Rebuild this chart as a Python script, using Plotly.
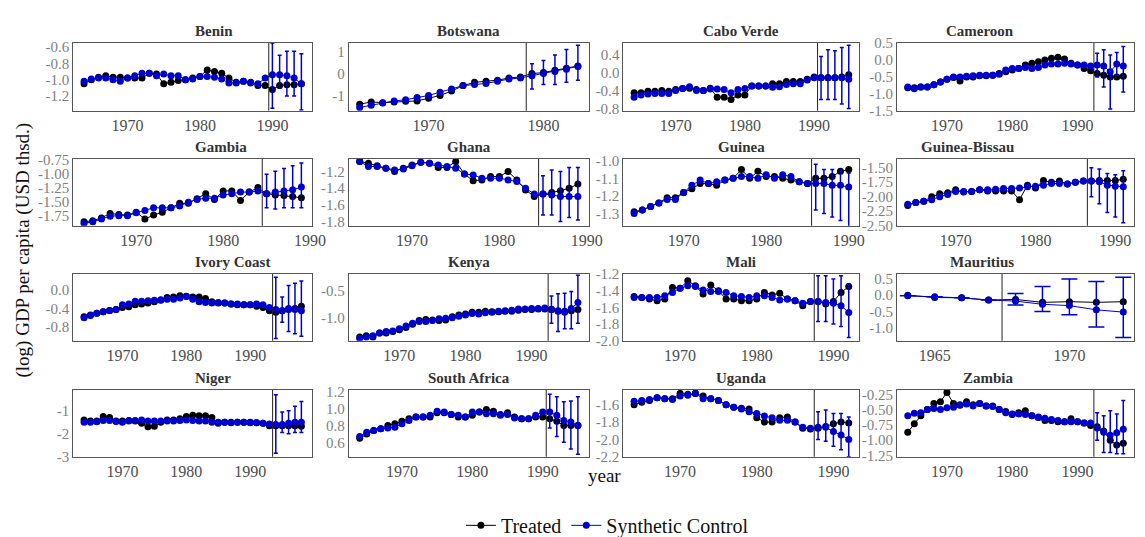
import plotly.graph_objects as go

countries = ["Benin", "Botswana", "Cabo Verde", "Cameroon", "Gambia", "Ghana", "Guinea", "Guinea-Bissau",
             "Ivory Coast", "Kenya", "Mali", "Mauritius", "Niger", "South Africa", "Uganda", "Zambia"]
start_year = [1964] * 16
treat_year = [1989.5, 1978.5, 1990.5, 1992.5, 1984.5, 1984.5, 1985.5, 1986.5,
              1993.5, 1992.5, 1987.5, 1967.5, 1993.5, 1990.5, 1987.5, 1992.5]

benin_treated = [-1.05,-1.0,-0.97,-0.95,-0.97,-0.97,-0.98,-0.98,-0.98,-0.92,-0.93,-1.05,-1.03,-1.01,-1.0,-0.98,-0.96,-0.88,-0.9,-0.92,-0.98,-1.03,-1.02,-1.03,-1.07,-1.07,-1.12,-1.07,-1.06,-1.06,-1.05]
benin_synth = [-1.02,-0.99,-0.98,-0.98,-1.0,-1.02,-0.98,-0.95,-0.92,-0.92,-0.95,-0.93,-0.95,-0.95,-1.0,-0.99,-0.96,-0.96,-0.97,-0.99,-1.04,-1.04,-1.02,-1.04,-1.05,-0.98,-0.94,-0.94,-0.95,-0.98,-1.05]
benin_hi = [-0.55,-0.7,-0.65,-0.65,-0.68]
benin_lo = [-1.35,-1.1,-1.2,-1.2,-1.37]

botswana_treated = [-1.4,-1.3,-1.33,-1.3,-1.27,-1.25,-1.13,-1.0,-0.8,-0.55,-0.4,-0.35,-0.3,-0.2,-0.15,0.0,0.05,0.15,0.25,0.35]
botswana_synth = [-1.55,-1.45,-1.35,-1.25,-1.2,-1.1,-1.0,-0.85,-0.7,-0.55,-0.5,-0.45,-0.35,-0.25,-0.2,-0.1,0.0,0.1,0.2,0.33]
botswana_hi = [0.45,0.6,0.85,1.1,1.3]
botswana_lo = [-0.7,-0.5,-0.5,-0.4,-0.3]

caboverde_treated = [-0.45,-0.45,-0.42,-0.42,-0.4,-0.42,-0.38,-0.36,-0.35,-0.38,-0.4,-0.35,-0.55,-0.55,-0.6,-0.5,-0.5,-0.3,-0.3,-0.3,-0.25,-0.25,-0.2,-0.2,-0.2,-0.15,-0.1,-0.12,-0.12,-0.12,-0.1,-0.05]
caboverde_synth = [-0.55,-0.5,-0.48,-0.47,-0.47,-0.47,-0.4,-0.36,-0.32,-0.4,-0.4,-0.37,-0.37,-0.38,-0.45,-0.38,-0.36,-0.3,-0.3,-0.3,-0.33,-0.32,-0.27,-0.25,-0.25,-0.17,-0.12,-0.12,-0.12,-0.12,-0.12,-0.15]
caboverde_hi = [0.35,0.5,0.48,0.55,0.6]
caboverde_lo = [-0.6,-0.6,-0.6,-0.7,-0.8]

cameroon_treated = [-0.82,-0.82,-0.8,-0.8,-0.73,-0.65,-0.57,-0.52,-0.62,-0.5,-0.5,-0.47,-0.47,-0.45,-0.4,-0.35,-0.3,-0.25,-0.15,-0.1,-0.05,0.0,0.05,0.08,0.03,-0.1,-0.15,-0.25,-0.32,-0.4,-0.45,-0.5,-0.5,-0.48]
cameroon_synth = [-0.8,-0.85,-0.8,-0.8,-0.73,-0.65,-0.57,-0.5,-0.5,-0.48,-0.47,-0.45,-0.45,-0.45,-0.42,-0.3,-0.25,-0.25,-0.22,-0.25,-0.22,-0.15,-0.12,-0.12,-0.1,-0.12,-0.15,-0.15,-0.18,-0.15,-0.18,-0.35,-0.12,-0.18]
cameroon_hi = [0.2,0.3,0.15,0.22,0.4]
cameroon_lo = [-0.5,-0.8,-1.45,-0.45,-0.95]

gambia_treated = [-1.85,-1.83,-1.78,-1.7,-1.72,-1.73,-1.68,-1.8,-1.73,-1.68,-1.6,-1.52,-1.52,-1.44,-1.35,-1.45,-1.3,-1.3,-1.47,-1.32,-1.24,-1.35,-1.37,-1.38,-1.4,-1.42]
gambia_synth = [-1.88,-1.85,-1.8,-1.75,-1.74,-1.74,-1.69,-1.65,-1.6,-1.6,-1.6,-1.57,-1.5,-1.45,-1.43,-1.43,-1.37,-1.35,-1.32,-1.32,-1.3,-1.35,-1.32,-1.3,-1.28,-1.23]
gambia_hi = [-1.0,-0.95,-0.9,-0.85,-0.8]
gambia_lo = [-1.6,-1.62,-1.6,-1.6,-1.6]

ghana_treated = [-1.08,-1.1,-1.13,-1.16,-1.2,-1.16,-1.12,-1.09,-1.1,-1.15,-1.15,-1.08,-1.23,-1.31,-1.3,-1.26,-1.26,-1.2,-1.3,-1.42,-1.5,-1.47,-1.45,-1.43,-1.4,-1.35]
ghana_synth = [-1.08,-1.14,-1.14,-1.16,-1.18,-1.17,-1.13,-1.09,-1.1,-1.12,-1.14,-1.16,-1.23,-1.24,-1.28,-1.28,-1.28,-1.3,-1.32,-1.4,-1.47,-1.47,-1.48,-1.5,-1.5,-1.5]
ghana_hi = [-1.25,-1.18,-1.2,-1.15,-1.15]
ghana_lo = [-1.72,-1.72,-1.8,-1.75,-1.78]

guinea_treated = [-1.29,-1.28,-1.26,-1.24,-1.21,-1.21,-1.18,-1.16,-1.13,-1.13,-1.14,-1.11,-1.1,-1.05,-1.1,-1.06,-1.09,-1.09,-1.1,-1.11,-1.12,-1.13,-1.1,-1.1,-1.09,-1.06,-1.05]
guinea_synth = [-1.3,-1.28,-1.26,-1.24,-1.22,-1.22,-1.18,-1.14,-1.11,-1.13,-1.12,-1.11,-1.1,-1.09,-1.09,-1.1,-1.08,-1.1,-1.08,-1.09,-1.12,-1.13,-1.13,-1.13,-1.14,-1.14,-1.15]
guinea_hi = [-1.02,-1.05,-1.05,-1.05,-1.07]
guinea_lo = [-1.28,-1.3,-1.32,-1.34,-1.42]

guineabissau_treated = [-2.15,-2.1,-2.08,-2.0,-1.95,-1.93,-1.88,-1.92,-1.91,-1.88,-1.9,-1.9,-1.9,-1.9,-2.05,-1.8,-1.85,-1.72,-1.75,-1.73,-1.78,-1.75,-1.73,-1.73,-1.72,-1.72,-1.72,-1.7]
guineabissau_synth = [-2.13,-2.1,-2.08,-2.05,-2.0,-1.96,-1.91,-1.91,-1.91,-1.88,-1.88,-1.87,-1.86,-1.86,-1.85,-1.83,-1.82,-1.8,-1.77,-1.77,-1.78,-1.75,-1.73,-1.73,-1.74,-1.8,-1.82,-1.83]
guineabissau_hi = [-1.5,-1.52,-1.6,-1.62,-1.55]
guineabissau_lo = [-2.0,-2.12,-2.27,-2.35,-2.45]

ivorycoast_treated = [-0.58,-0.54,-0.5,-0.47,-0.44,-0.42,-0.38,-0.36,-0.32,-0.3,-0.28,-0.25,-0.22,-0.16,-0.15,-0.12,-0.13,-0.15,-0.15,-0.18,-0.25,-0.28,-0.28,-0.3,-0.32,-0.32,-0.32,-0.35,-0.38,-0.45,-0.48,-0.45,-0.42,-0.4,-0.35]
ivorycoast_synth = [-0.6,-0.55,-0.5,-0.47,-0.44,-0.42,-0.32,-0.3,-0.24,-0.24,-0.23,-0.22,-0.21,-0.2,-0.2,-0.17,-0.14,-0.2,-0.25,-0.27,-0.28,-0.27,-0.28,-0.3,-0.3,-0.32,-0.32,-0.3,-0.32,-0.38,-0.42,-0.45,-0.4,-0.42,-0.45]
ivorycoast_hi = [0.28,-0.15,0.1,0.15,0.2]
ivorycoast_lo = [-1.05,-0.7,-0.9,-0.95,-1.0]

kenya_treated = [-1.35,-1.33,-1.35,-1.28,-1.28,-1.25,-1.22,-1.18,-1.12,-1.05,-1.03,-1.04,-1.05,-1.04,-0.98,-0.95,-0.93,-0.9,-0.9,-0.88,-0.89,-0.89,-0.88,-0.88,-0.86,-0.85,-0.85,-0.84,-0.84,-0.85,-0.87,-0.88,-0.87,-0.85]
kenya_synth = [-1.38,-1.35,-1.33,-1.28,-1.25,-1.24,-1.2,-1.15,-1.1,-1.07,-1.07,-1.05,-1.02,-1.01,-1.0,-0.97,-0.95,-0.92,-0.93,-0.91,-0.9,-0.88,-0.87,-0.86,-0.84,-0.84,-0.83,-0.83,-0.82,-0.85,-0.88,-0.9,-0.83,-0.72]
kenya_hi = [-0.6,-0.56,-0.55,-0.52,-0.22]
kenya_lo = [-1.1,-1.25,-1.2,-1.2,-1.1]

mali_treated = [-1.47,-1.48,-1.5,-1.52,-1.5,-1.36,-1.37,-1.28,-1.34,-1.44,-1.33,-1.4,-1.5,-1.5,-1.52,-1.52,-1.5,-1.42,-1.45,-1.43,-1.5,-1.52,-1.58,-1.53,-1.53,-1.56,-1.53,-1.42,-1.35]
mali_synth = [-1.48,-1.48,-1.48,-1.48,-1.46,-1.42,-1.37,-1.34,-1.35,-1.39,-1.41,-1.41,-1.42,-1.46,-1.47,-1.48,-1.46,-1.46,-1.48,-1.51,-1.5,-1.52,-1.55,-1.53,-1.53,-1.54,-1.55,-1.58,-1.66]
mali_hi = [-1.22,-1.22,-1.26,-1.22,-1.32]
mali_lo = [-1.77,-1.77,-1.8,-1.83,-1.96]

mauritius_treated = [0.0,-0.07,-0.08,-0.15,-0.13,-0.22,-0.2,-0.22,-0.2]
mauritius_synth = [-0.02,-0.05,-0.08,-0.15,-0.18,-0.28,-0.32,-0.45,-0.52]
mauritius_hi = [0.05,0.27,0.5,0.42,0.55]
mauritius_lo = [-0.3,-0.5,-0.6,-0.98,-1.3]

niger_treated = [-1.4,-1.45,-1.45,-1.25,-1.3,-1.45,-1.45,-1.42,-1.45,-1.55,-1.7,-1.68,-1.5,-1.4,-1.4,-1.35,-1.25,-1.2,-1.22,-1.22,-1.3,-1.55,-1.5,-1.5,-1.5,-1.5,-1.5,-1.52,-1.55,-1.65,-1.65,-1.65,-1.65,-1.65,-1.68]
niger_synth = [-1.5,-1.5,-1.48,-1.42,-1.42,-1.47,-1.5,-1.45,-1.42,-1.4,-1.45,-1.45,-1.45,-1.45,-1.45,-1.42,-1.4,-1.42,-1.45,-1.45,-1.5,-1.5,-1.5,-1.52,-1.5,-1.5,-1.52,-1.52,-1.55,-1.58,-1.6,-1.6,-1.55,-1.5,-1.5]
niger_hi = [-0.3,-1.05,-1.0,-0.8,-0.6]
niger_lo = [-2.85,-1.95,-2.0,-1.95,-1.95]

southafrica_treated = [0.65,0.7,0.74,0.76,0.8,0.82,0.85,0.88,0.9,0.9,0.9,0.95,0.95,0.93,0.9,0.9,0.92,0.96,0.99,0.97,0.93,0.95,0.9,0.88,0.88,0.9,0.9,0.88,0.85,0.8,0.8,0.8]
southafrica_synth = [0.67,0.72,0.74,0.76,0.77,0.78,0.82,0.86,0.9,0.9,0.92,0.97,0.96,0.93,0.92,0.9,0.96,0.96,0.94,0.94,0.92,0.93,0.89,0.88,0.88,0.92,0.96,0.96,0.92,0.86,0.84,0.8]
southafrica_hi = [1.17,1.14,1.08,1.09,1.14]
southafrica_lo = [0.77,0.67,0.6,0.52,0.46]

uganda_treated = [-1.6,-1.57,-1.55,-1.52,-1.53,-1.53,-1.47,-1.48,-1.47,-1.5,-1.53,-1.55,-1.6,-1.63,-1.64,-1.65,-1.75,-1.8,-1.8,-1.75,-1.74,-1.8,-1.87,-1.88,-1.87,-1.85,-1.82,-1.8,-1.81]
uganda_synth = [-1.56,-1.55,-1.54,-1.52,-1.53,-1.54,-1.5,-1.49,-1.47,-1.53,-1.53,-1.55,-1.6,-1.63,-1.65,-1.68,-1.7,-1.73,-1.75,-1.78,-1.78,-1.8,-1.86,-1.87,-1.86,-1.86,-1.91,-1.95,-2.0]
uganda_hi = [-1.68,-1.66,-1.7,-1.7,-1.74]
uganda_lo = [-2.0,-2.02,-2.08,-2.12,-2.2]

zambia_treated = [-0.87,-0.73,-0.6,-0.5,-0.4,-0.37,-0.22,-0.4,-0.43,-0.37,-0.42,-0.4,-0.44,-0.44,-0.5,-0.53,-0.58,-0.55,-0.52,-0.6,-0.63,-0.68,-0.68,-0.7,-0.7,-0.65,-0.7,-0.72,-0.76,-0.78,-0.85,-1.0,-1.08,-1.05]
zambia_synth = [-0.6,-0.56,-0.55,-0.5,-0.48,-0.5,-0.47,-0.46,-0.42,-0.41,-0.44,-0.4,-0.44,-0.45,-0.5,-0.55,-0.57,-0.57,-0.58,-0.6,-0.62,-0.64,-0.66,-0.68,-0.7,-0.7,-0.7,-0.72,-0.72,-0.8,-0.87,-0.92,-0.88,-0.82]
zambia_hi = [-0.55,-0.6,-0.52,-0.57,-0.35]
zambia_lo = [-1.0,-1.2,-1.2,-1.22,-1.22]

treated_all = [benin_treated, botswana_treated, caboverde_treated, cameroon_treated, gambia_treated, ghana_treated,
               guinea_treated, guineabissau_treated, ivorycoast_treated, kenya_treated, mali_treated, mauritius_treated,
               niger_treated, southafrica_treated, uganda_treated, zambia_treated]
synth_all = [benin_synth, botswana_synth, caboverde_synth, cameroon_synth, gambia_synth, ghana_synth,
             guinea_synth, guineabissau_synth, ivorycoast_synth, kenya_synth, mali_synth, mauritius_synth,
             niger_synth, southafrica_synth, uganda_synth, zambia_synth]
hi_all = [benin_hi, botswana_hi, caboverde_hi, cameroon_hi, gambia_hi, ghana_hi, guinea_hi, guineabissau_hi,
          ivorycoast_hi, kenya_hi, mali_hi, mauritius_hi, niger_hi, southafrica_hi, uganda_hi, zambia_hi]
lo_all = [benin_lo, botswana_lo, caboverde_lo, cameroon_lo, gambia_lo, ghana_lo, guinea_lo, guineabissau_lo,
          ivorycoast_lo, kenya_lo, mali_lo, mauritius_lo, niger_lo, southafrica_lo, uganda_lo, zambia_lo]

y_ticks = [[-1.2,-1.0,-0.8,-0.6],[-1,0,1],[-0.8,-0.4,0.0,0.4],[-1.5,-1.0,-0.5,0.0,0.5],
           [-1.75,-1.5,-1.25,-1.0,-0.75],[-1.8,-1.6,-1.4,-1.2],[-1.3,-1.2,-1.1,-1.0],[-2.5,-2.25,-2.0,-1.75,-1.5],
           [-0.8,-0.4,0.0],[-1.0,-0.5],[-2.0,-1.8,-1.6,-1.4,-1.2],[-1.0,-0.5,0.0,0.5],
           [-3,-2,-1],[0.6,0.8,1.0,1.2],[-2.2,-2.0,-1.8,-1.6],[-1.25,-1.0,-0.75,-0.5,-0.25]]
y_ranges = [[-1.38,-0.55],[-1.7,1.4],[-0.85,0.65],[-1.5,0.5],[-1.92,-0.73],[-1.85,-1.05],[-1.37,-0.99],[-2.5,-1.35],
            [-1.1,0.35],[-1.42,-0.2],[-2.0,-1.2],[-1.4,0.65],[-3.0,-0.1],[0.43,1.22],[-2.2,-1.43],[-1.27,-0.18]]

W, H = 1145, 537
col_px = [(66, 308), (345, 588), (623, 862), (900, 1140)]
row_px = [(28, 98), (148, 217), (267, 336), (387, 456)]

fig = go.Figure()
FONT = "Liberation Serif"
BLACK, BLUE = "#000000", "#0000CC"
for i, c in enumerate(countries):
    r, k = divmod(i, 4)
    ax = "" if i == 0 else str(i + 1)
    xa, ya = "x" + ax, "y" + ax
    t = treated_all[i]; s = synth_all[i]
    xt = [start_year[i] + j for j in range(len(t))]
    xs = [start_year[i] + j for j in range(len(s))]
    n = len(hi_all[i])
    eplus = [None] * (len(s) - n) + [h - v for h, v in zip(hi_all[i], s[-n:])]
    eminus = [None] * (len(s) - n) + [v - l for l, v in zip(lo_all[i], s[-n:])]
    fig.add_trace(go.Scatter(x=xt, y=t, mode="lines+markers", name="Treated", legendgroup="t",
                             showlegend=(i == 0), line=dict(color=BLACK, width=1),
                             marker=dict(color=BLACK, size=7), xaxis=xa, yaxis=ya))
    fig.add_trace(go.Scatter(x=xs, y=s, mode="lines+markers", name="Synthetic Control", legendgroup="s",
                             showlegend=(i == 0), line=dict(color=BLUE, width=1),
                             marker=dict(color=BLUE, size=7),
                             error_y=dict(type="data", symmetric=False, array=eplus, arrayminus=eminus,
                                          color=BLUE, thickness=1.5, width=2 if c != "Mauritius" else 8),
                             xaxis=xa, yaxis=ya))
    x0 = min(xt[0], xs[0]); x1 = max(xt[-1], xs[-1])
    pad = (x1 - x0) * 0.05
    x0p, x1p = col_px[k]; y0p, y1p = row_px[r]
    lay_x = dict(domain=[x0p / W, x1p / W], range=[x0 - pad, x1 + pad], showgrid=False, zeroline=False,
                 showline=True, mirror=True, linecolor="#555555", linewidth=1, ticks="",
                 tickfont=dict(family=FONT, size=16, color="#4d4d4d"), anchor=ya,
                 dtick=5 if c == "Mauritius" else 10, tick0=1960)
    lay_y = dict(domain=[1 - y1p / H, 1 - y0p / H], range=y_ranges[i], showgrid=False, zeroline=False,
                 showline=True, mirror=True, linecolor="#555555", linewidth=1, ticks="",
                 tickvals=y_ticks[i], ticktext=[("%g" % v) if c in ("Botswana", "Niger") else
                                                 (("%.2f" % v) if c in ("Gambia", "Guinea-Bissau", "Zambia") else "%.1f" % v)
                                                 for v in y_ticks[i]],
                 tickfont=dict(family=FONT, size=15, color="#7f7f7f"), anchor=xa)
    fig.layout["xaxis" + ax] = lay_x
    fig.layout["yaxis" + ax] = lay_y
    fig.add_shape(type="line", xref=xa, yref="paper", x0=treat_year[i], x1=treat_year[i],
                  y0=1 - y1p / H, y1=1 - y0p / H, line=dict(color="#222222", width=1))
    fig.add_annotation(text="<b>%s</b>" % c, xref="paper", yref="paper", x=(x0p + x1p) / 2 / W,
                       y=1 - (y0p - 2) / H, yanchor="bottom", showarrow=False,
                       font=dict(family=FONT, size=15, color="#333333"))

fig.add_annotation(text="year", xref="paper", yref="paper", x=0.527, y=1 - 488 / H, showarrow=False,
                   font=dict(family=FONT, size=19, color="#111111"))
fig.add_annotation(text="(log) GDP per capita (USD thsd.)", xref="paper", yref="paper", x=2 / W, xanchor="left",
                   y=0.55, textangle=-90, showarrow=False, font=dict(family=FONT, size=19, color="#111111"))
fig.update_layout(width=W, height=H, margin=dict(l=0, r=0, t=0, b=0), plot_bgcolor="white",
                  paper_bgcolor="white",
                  legend=dict(orientation="h", x=0.53, xanchor="center", y=1 - 527 / H, yanchor="middle",
                              font=dict(family=FONT, size=20, color="#111111"), itemwidth=30, tracegroupgap=0))
fig.write_html("out.html")
